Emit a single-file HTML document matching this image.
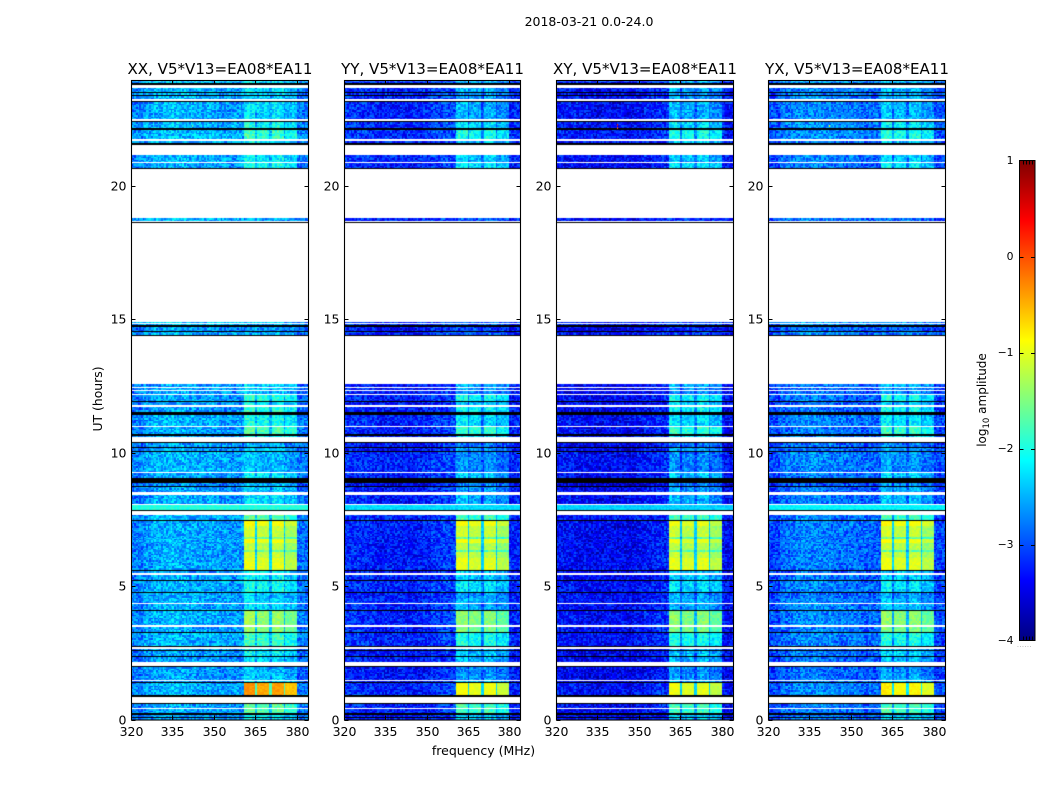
<!DOCTYPE html>
<html>
<head>
<meta charset="utf-8">
<title>2018-03-21 0.0-24.0</title>
<style>
html,body{margin:0;padding:0;background:#fff;width:1050px;height:800px;overflow:hidden}
#stage{position:relative;width:1050px;height:800px}
canvas{position:absolute;display:block}
svg{position:absolute;left:0;top:0}
text{font-family:"DejaVu Sans","Liberation Sans",sans-serif;fill:#000}
</style>
</head>
<body>
<div id="stage">
<canvas id="hm0" width="177" height="640" style="left:131px;top:80px"></canvas>
<canvas id="hm1" width="176" height="640" style="left:344px;top:80px"></canvas>
<canvas id="hm2" width="177" height="640" style="left:556px;top:80px"></canvas>
<canvas id="hm3" width="177" height="640" style="left:768px;top:80px"></canvas>
<svg id="overlay" width="1050" height="800">
<defs><linearGradient id="jetGrad" x1="0" y1="1" x2="0" y2="0"></linearGradient></defs>
<text x="589" y="26" font-size="12.5" text-anchor="middle">2018-03-21 0.0-24.0</text>
<text x="483.5" y="755" font-size="12.5" text-anchor="middle">frequency (MHz)</text>
<text x="0" y="0" font-size="12.4" text-anchor="middle" transform="translate(102,399) rotate(-90)">UT (hours)</text>
<text x="0" y="0" font-size="12" text-anchor="middle" transform="translate(986,400) rotate(-90)">log<tspan font-size="8.5" dy="3">10</tspan><tspan dy="-3"> amplitude</tspan></text>
<rect x="1019.5" y="160.5" width="15.5" height="480" fill="url(#jetGrad)" stroke="#000" stroke-width="1"/>
<text x="1017" y="647" font-size="6" fill="#888" style="fill:#888;letter-spacing:0.6px">......</text>
</svg>
</div>
<script>
/* ---------- chart data ---------- */
const polarizations = ["XX", "YY", "XY", "YX"];
const polBaseLevels = [-2.55, -3.15, -3.3, -2.8];
const polSignalOffsets = [-0.2, -0.45, -0.45, -0.4];
const polSignalCaps = [1, -1.0, -1.05, -0.9];
const polStripOffsets = [0, -0.35, -0.4, -0.2];
const freqProfileCo = [-0.2,-0.05,0.05,0.1,0.1,0.05,0,0,-0.05,-0.05,-0.05,0,0,0,-0.1,-0.25];
const freqProfileCross = [0,0,-0.05,-0.1,-0.1,-0.1,-0.1,-0.05,0.05,0.1,0.2,0.2,0.2,0.2,0.15,-0.05];
/* frequency start, frequency end, level offset */
const signalColumns = [[360.9,365.3,0.1],[365.9,370.1,0],[370.8,375.4,0.05],[375.9,380.1,-0.15]];
/* hour top, hour bottom, background offset, signal level (XX) or null, flat level (XX) if any */
const timeBands = [
[23.94,23.85,0.1,-2.1],[23.68,23.51,0,-2.1],[23.47,23.41,0,-2.2],[23.37,23.25,0,-2.2],
[23.14,22.53,0,-2.1],[22.39,22.16,0.05,-1.9],[22.11,21.75,0.05,-1.75],[21.68,21.62,0,-2],
[21.16,20.91,0,-2.0],[20.87,20.68,-0.05,-1.9],[18.79,18.68,0,null],
[14.90,14.86,0.1,null],[14.82,14.79,0.1,null],[14.72,14.57,-0.1,null],[14.54,14.41,0,null],
[12.57,12.47,-0.1,-2.1],[12.43,12.35,-0.1,-2.2],[12.31,12.23,-0.1,-2.3],[12.15,11.95,-0.05,-1.8],
[11.91,11.80,-0.1,-2.0],[11.72,11.54,-0.1,-1.8],[11.41,11.04,0,-1.9],[10.96,10.70,-0.05,-1.65],
[10.64,10.58,-0.05,-1.9],[10.35,10.22,-0.1,-2.4],[10.19,10.06,-0.1,-2.2],[10.03,9.28,0,-2.3],
[9.23,9.04,-0.05,-2.0],[8.88,8.76,-0.2,-2.3],[8.74,8.54,-0.1,-2.2],[8.43,8.10,-0.05,-2.1],
[8.05,8.03,0,-2.1],[8.03,7.84,0,null,-1.95],[7.67,7.48,0,-1.6],
[7.43,7.24,-0.05,-0.95],[7.24,6.85,-0.05,-1.15],[6.85,6.78,-0.05,-1.5],[6.78,6.62,-0.05,-1.0],
[6.62,6.35,-0.05,-1.2],[6.35,6.28,-0.05,-1.5],[6.28,6.08,-0.05,-1.15],[6.04,5.60,-0.05,-1.05],
[5.55,5.50,-0.1,-2],[5.40,5.23,-0.05,-2.0],[5.19,4.78,0,-1.9],[4.74,4.55,-0.05,-2.2],
[4.52,4.37,0,-2.1],[4.32,4.09,0,-2.1],[4.05,3.54,0,-1.35],[3.47,3.27,-0.05,-1.4],
[3.23,2.75,0,-1.75],[2.63,2.60,-0.1,-2],[2.57,2.37,-0.1,-2.0],[2.33,2.20,-0.1,-2.1],
[1.97,1.72,-0.1,-2.3],[1.69,1.50,-0.1,-2.2],[1.46,1.42,-0.1,-2.0],[1.39,0.92,0,-0.45],
[0.58,0.43,-0.05,-1.6],[0.39,0.23,-0.05,-1.6],[0.18,0.09,-0.1,-2],[0.06,0,-0.1,-2]
];
/* hour top, hour bottom of fully black rows */
const blackBands = [
[23.85,23.78],[23.51,23.47],[23.41,23.37],[23.19,23.14],[22.44,22.39],[22.16,22.11],[21.62,21.54],
[20.68,20.62],[18.66,18.62],[14.79,14.72],[14.57,14.54],[14.41,14.38],[11.95,11.91],[11.54,11.41],
[10.70,10.64],[10.40,10.35],[10.22,10.19],[10.06,10.03],[9.04,8.88],[8.76,8.74],[7.84,7.80],
[7.48,7.43],[5.60,5.55],[5.23,5.19],[4.78,4.74],[4.09,4.05],[3.27,3.23],[2.75,2.73],[2.60,2.57],
[2.37,2.33],[2.02,1.97],[1.42,1.39],[0.92,0.84],[0.62,0.58],[0.23,0.18],[0.09,0.06]
];
/* hand-typed texture approximating channel-to-channel scatter; not per-pixel data */
const speckle = [0.3,-0.7,0.9,-0.2,0.5,-1,0.1,0.7,-0.4,0.2,-0.8,0.6,-0.1,1,-0.5,0.4,-0.9,0,0.8,-0.3,
0.6,-0.6,0.2,-0.95,0.45,0.05,-0.35,0.85,-0.75,0.15,0.55,-0.15,0.95,-0.55,0.35,-0.85,0.25,0.75,-0.45,-0.05,
0.65,-0.65,0.1,-0.25,0.9,-1,0.4,0.2,-0.6,0.7,-0.1,0.5,-0.8,0.3,0,-0.4,0.8,-0.7,0.6,-0.2,0.15];
/* panel index, frequency, hour, level of isolated bright pixels */
const spikes = [[2,342.2,22.32,0.3],[2,342.2,22.22,-0.1],[3,342.2,22.3,-0.8],[0,342.2,22.3,-1.6]];
const xTickValues = [320, 335, 350, 365, 380];
const yTickValues = [0, 5, 10, 15, 20];
const colorbarTicks = [1, 0, -1, -2, -3, -4];
const panelTitleSuffix = ", V5*V13=EA08*EA11";

/* ---------- layout and scales ---------- */
const SVGNS = "http://www.w3.org/2000/svg";
const panelLefts = [131, 344, 556, 768];
const panelWidths = [177, 176, 177, 177];
const freqMin = 320, freqMax = 384, levelMin = -4, levelMax = 1;
const plotTop = 80, plotBottom = 719.5;
function xScale(p, f) { return (f - freqMin) * panelWidths[p] / (freqMax - freqMin); }
function yScale(h) { return plotBottom - h * 26.68; }
function cbarY(v) { return 160.5 + (levelMax - v) / (levelMax - levelMin) * 480; }
function clip01(v) { return Math.max(0, Math.min(1, v)); }
function jet(t) {
  t = clip01(t);
  return [clip01(1.5 - Math.abs(4 * t - 3)), clip01(1.5 - Math.abs(4 * t - 2)), clip01(1.5 - Math.abs(4 * t - 1))]
    .map(function (c) { return Math.round(c * 255); });
}
function levelColor(v) {
  var c = jet((v - levelMin) / (levelMax - levelMin));
  return "rgb(" + c[0] + "," + c[1] + "," + c[2] + ")";
}
function cellLevel(p, band, f, row, col) {
  var profile = (p === 0 || p === 3) ? freqProfileCo : freqProfileCross;
  var bin = Math.min(profile.length - 1, Math.floor((f - freqMin) / 4));
  var s = speckle[(col * col * 3 + row * row * 5 + col * row + p * 11) % speckle.length];
  if (band[4] !== undefined) return band[4] + polStripOffsets[p] + s * 0.12;
  var bg = polBaseLevels[p] + profile[bin] + band[2] + s * 0.42;
  if (band[3] === null) return bg;
  var weak = clip01(-1 - band[3]);
  var sig = Math.min(band[3], polSignalCaps[p]) + polSignalOffsets[p] * weak;
  var first = signalColumns[0][0], last = signalColumns[signalColumns.length - 1][1];
  if (f < first || f >= last) return bg;
  var noise = s * (0.1 + 0.25 * weak);
  for (var i = 0; i < signalColumns.length; i++) {
    var sc = signalColumns[i];
    if (f >= sc[0] && f < sc[1]) return Math.max(bg, sig + sc[2] + noise);
  }
  return Math.max(bg, sig - (1.3 - 0.9 * weak) + noise);
}

/* ---------- heatmaps ---------- */
const colStep = 0.6, rowStep = 0.06;
polarizations.forEach(function (pol, p) {
  var ctx = document.getElementById("hm" + p).getContext("2d");
  timeBands.forEach(function (band, bi) {
    var row = 0;
    for (var h = band[0]; h > band[1] + 1e-6; h -= rowStep, row++) {
      var y0 = Math.round(yScale(h)) - plotTop;
      var y1 = Math.round(yScale(Math.max(h - rowStep, band[1]))) - plotTop;
      if (y1 <= y0) y1 = y0 + 1;
      var col = 0;
      for (var f = freqMin; f < freqMax; f += colStep, col++) {
        var x0 = Math.round(xScale(p, f));
        var x1 = Math.round(xScale(p, f + colStep));
        ctx.fillStyle = levelColor(cellLevel(p, band, f + colStep / 2, row + bi * 7, col));
        ctx.fillRect(x0, y0, Math.max(1, x1 - x0), y1 - y0);
      }
    }
  });
  blackBands.forEach(function (b) {
    var y0 = Math.round(yScale(b[0])) - plotTop;
    var y1 = Math.round(yScale(b[1])) - plotTop;
    ctx.fillStyle = "#000";
    ctx.fillRect(0, y0, panelWidths[p], Math.max(1, y1 - y0));
  });
  spikes.forEach(function (sp) {
    if (sp[0] !== p) return;
    ctx.fillStyle = levelColor(sp[3]);
    ctx.fillRect(Math.round(xScale(p, sp[1])), Math.round(yScale(sp[2])) - plotTop, 1, 2);
  });
});

/* ---------- axes ---------- */
const svg = document.getElementById("overlay");
function addLine(parent, name, x1, y1, x2, y2, w) {
  var l = document.createElementNS(SVGNS, "line");
  l.setAttribute("x1", x1);
  l.setAttribute("y1", y1);
  l.setAttribute("x2", x2);
  l.setAttribute("y2", y2);
  l.setAttribute("stroke", "#000");
  l.setAttribute("stroke-width", w || 1);
  
  
  parent.appendChild(l);
}
function addText(parent, name, x, y, size, anchor, str) {
  var t = document.createElementNS(SVGNS, "text");
  t.setAttribute("x", x);
  t.setAttribute("y", y);
  t.setAttribute("font-size", size);
  t.setAttribute("text-anchor", anchor);
  
  
  t.textContent = str;
  parent.appendChild(t);
  return t;
}
polarizations.forEach(function (pol, p) {
  var left = panelLefts[p] + 0.5;
  var width = panelWidths[p];
  var g = document.createElementNS(SVGNS, "g");
  
  
  svg.appendChild(g);
  var frame = document.createElementNS(SVGNS, "rect");
  frame.setAttribute("x", left);
  frame.setAttribute("y", plotTop + 0.5);
  frame.setAttribute("width", width);
  frame.setAttribute("height", plotBottom - plotTop);
  frame.setAttribute("fill", "none");
  frame.setAttribute("stroke", "#000");
  frame.setAttribute("stroke-width", "1.1");
  
  
  g.appendChild(frame);
  addText(g, "panel-title", left + width / 2, 74, 15.05, "middle", pol + panelTitleSuffix);
  xTickValues.forEach(function (v) {
    var x = Math.round(panelLefts[p] + xScale(p, v)) + 0.5;
    addLine(g, "x-tick", x, plotBottom, x, plotBottom - 4);
    addLine(g, "x-tick", x, plotTop + 0.5, x, plotTop + 4.5);
    addText(g, "x-tick-label", x, 736, 12.5, "middle", String(v));
  });
  yTickValues.forEach(function (v) {
    var y = Math.round(yScale(v)) + 0.5;
    addLine(g, "y-tick", left, y, left + 4, y);
    addLine(g, "y-tick", left + width - 4, y, left + width, y);
    addText(g, "y-tick-label", left - 5, y + 4, 12.5, "end", String(v));
  });
});

/* ---------- colorbar ---------- */
const grad = document.getElementById("jetGrad");
for (var i = 0; i <= 32; i++) {
  var stop = document.createElementNS(SVGNS, "stop");
  stop.setAttribute("offset", i / 32);
  stop.setAttribute("stop-color", levelColor(levelMin + (levelMax - levelMin) * i / 32));
  grad.appendChild(stop);
}
colorbarTicks.forEach(function (v) {
  var y = Math.round(cbarY(v)) + 0.5;
  if (v < levelMax && v > levelMin) {
    addLine(svg, "colorbar-tick", 1019.5, y, 1023.5, y);
    addLine(svg, "colorbar-tick", 1031, y, 1035, y);
  }
  addText(svg, "colorbar-tick-label", 1013.5, y + 2.5, 10.8, "end", String(v).replace("-", "\u2212"));
});
[1023, 1026, 1029, 1032].forEach(function (x) {
  addLine(svg, "colorbar-minor-tick", x + 0.5, 160.5, x + 0.5, 164.5);
  addLine(svg, "colorbar-minor-tick", x + 0.5, 636.5, x + 0.5, 640.5);
});
</script>
</body>
</html>
